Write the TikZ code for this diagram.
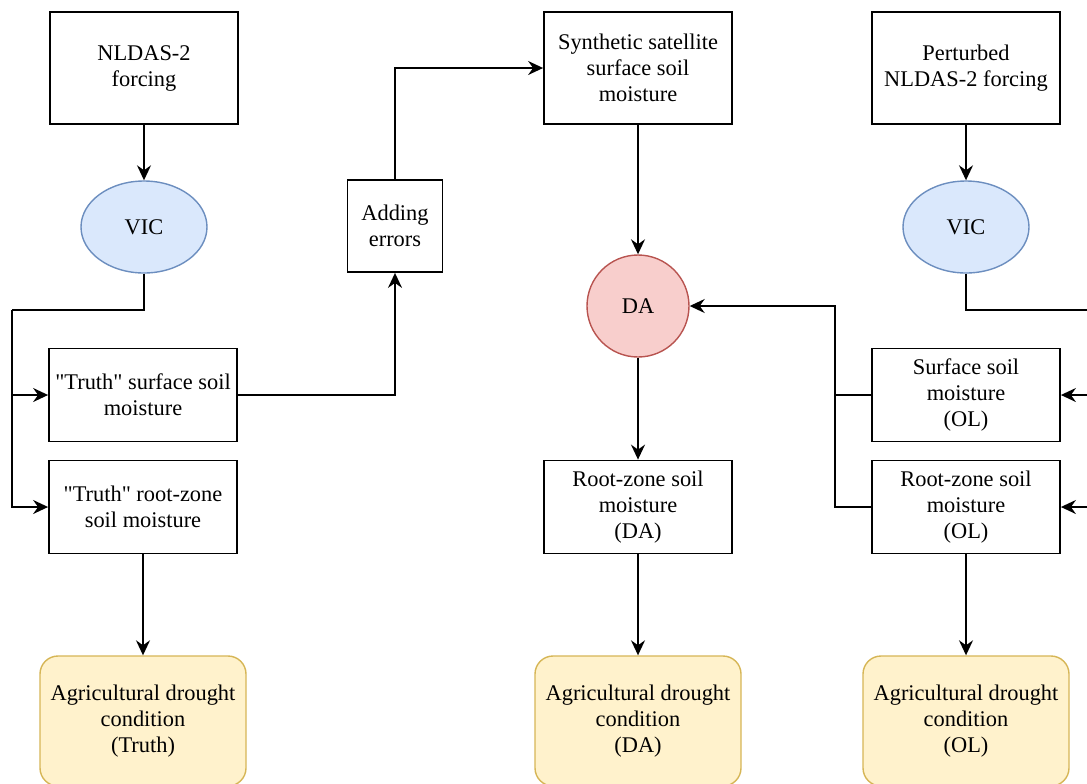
\documentclass[tikz,border=0pt]{standalone}
\usepackage{fontspec}
\setmainfont{Liberation Serif}
\usepackage{tikz}
\usetikzlibrary{arrows.meta,shapes.geometric}

\definecolor{vicfill}{HTML}{DAE8FC}
\definecolor{vicdraw}{HTML}{6C8EBF}
\definecolor{dafill}{HTML}{F8CECC}
\definecolor{dadraw}{HTML}{B85450}
\definecolor{agfill}{HTML}{FFF2CC}
\definecolor{agdraw}{HTML}{D6B656}

\begin{document}
\begin{tikzpicture}[x=0.5pt,y=-0.5pt]
\tikzset{box/.style = {shape=rectangle,draw,line width=0.9pt,align=center,inner sep=0pt,
  font=\fontsize{11.2}{13}\selectfont}}
\tikzset{bigbox/.style = {box,minimum width=94pt,minimum height=56pt}}
\tikzset{smallbox/.style = {box,minimum width=94pt,minimum height=46.5pt}}
\tikzset{model/.style = {box,shape=ellipse,fill=vicfill,draw=vicdraw,line width=0.7pt,
  minimum width=63pt,minimum height=46pt}}
\tikzset{assim/.style = {box,shape=circle,fill=dafill,draw=dadraw,line width=0.7pt,minimum size=51pt}}
\tikzset{drought/.style = {box,rounded corners=9pt,fill=agfill,draw=agdraw,line width=0.7pt,
  minimum width=103pt,minimum height=65pt}}
\tikzset{edge/.style = {line width=0.9pt,-{Stealth[length=7.5pt,width=7pt,inset=2.5pt]}}}
\tikzset{link/.style = {line width=0.9pt}}
\useasboundingbox (0,0) rectangle (1087,783);
\clip (0,0) rectangle (1087,783);
% truth run
\node[bigbox] (forcing) at (144,68) {NLDAS-2\\forcing};
\node[model] (vicT) at (144,227) {VIC};
\node[smallbox] (truthS) at (143,395) {\textquotedbl Truth\textquotedbl{} surface soil\\moisture};
\node[smallbox] (truthR) at (143,507) {\textquotedbl Truth\textquotedbl{} root-zone\\soil moisture};
\node[drought] (agT) at (143,721) {Agricultural drought\\condition\\(Truth)};
\node[box,minimum width=47.5pt,minimum height=46pt] (errors) at (395,226) {Adding\\errors};
% assimilation run
\node[bigbox] (synth) at (638,68) {Synthetic satellite\\surface soil\\moisture};
\node[assim] (da) at (638,306) {DA};
\node[smallbox] (daR) at (638,507) {Root-zone soil\\moisture\\(DA)};
\node[drought] (agD) at (638,721) {Agricultural drought\\condition\\(DA)};
% open loop run
\node[bigbox] (pert) at (966,68) {Perturbed\\NLDAS-2 forcing};
\node[model] (vicO) at (966,227) {VIC};
\node[smallbox] (olS) at (966,395) {Surface soil\\moisture\\(OL)};
\node[smallbox] (olR) at (966,507) {Root-zone soil\\moisture\\(OL)};
\node[drought] (agO) at (966,721) {Agricultural drought\\condition\\(OL)};
\coordinate (splitT) at (12,310);
\coordinate (splitO) at (1100,310);
\coordinate (joinO) at (835,306);
\coordinate (inS) at (1100,395);
\coordinate (inR) at (1100,507);
\draw[edge] (forcing) to (vicT);
\draw[link] (vicT.south) |- (splitT);
\draw[edge] (splitT) |- (truthS.west);
\draw[edge] (splitT) |- (truthR.west);
\draw[edge] (truthR) to (agT);
\draw[edge] (truthS.east) -| (errors.south);
\draw[edge] (errors.north) |- (synth.west);
\draw[edge] (synth) to (da);
\draw[edge] (da) to (daR);
\draw[edge] (daR) to (agD);
\draw[edge] (pert) to (vicO);
\draw[link] (vicO.south) |- (splitO);
\draw[edge] (inS) to (olS.east);
\draw[edge] (inR) to (olR.east);
\draw[link] (olS.west) to (olS.west -| joinO);
\draw[edge] (olR.west) -| (joinO) to (da.east);
\draw[edge] (olR) to (agO);
\end{tikzpicture}
\end{document}
